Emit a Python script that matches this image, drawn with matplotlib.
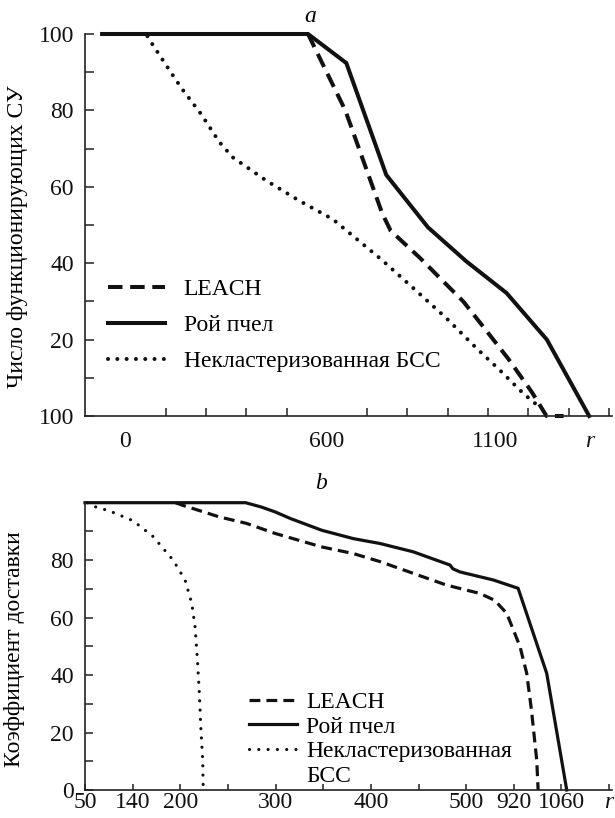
import matplotlib
matplotlib.use("Agg")
import matplotlib.pyplot as plt
from matplotlib.lines import Line2D
import numpy as np

plt.rcParams['font.family'] = ['Liberation Serif', 'DejaVu Serif']
plt.rcParams['mathtext.fontset'] = 'stix'

# ---------------- data: panel a ----------------
a_bees_x = [-69, 544, 658, 777, 901, 1015, 1135, 1255, 1381]
a_bees_y = [100, 100, 92.4, 63.1, 49.4, 40.5, 32.2, 20, 0]
a_leach_x = [544, 655, 765, 790, 877, 1006, 1060, 1140, 1210, 1254, 1305]
a_leach_y = [100, 80, 53, 48.5, 41.4, 30, 24, 15, 6.3, 0, 0]
a_flat_x = [-69, 62, 80, 133, 169, 226, 280, 320, 420, 519, 618, 762, 857, 956, 1046, 1115, 1185, 1239]
a_flat_y = [100, 100, 97.4, 90.3, 85.6, 79, 71.7, 67.7, 61.6, 56.3, 51.5, 41, 33.5, 25.6, 17.7, 12, 5.9, 1.9]
a_xtick_pos = [0, 600, 1100, 1383]
a_xtick_lab = ['0', '600', '1100', 'r']
a_ytick_pos = [0, 20, 40, 60, 80, 100]
a_ytick_lab = ['100', '20', '40', '60', '80', '100']

# ---------------- data: panel b (x = position on the tick scale) ----------------
b_bees_x = [0, 3.37, 3.7, 3.99, 4.31, 4.97, 5.63, 6.19, 6.89, 7.66, 7.72, 7.87, 8.57, 9.09, 9.69, 10.11]
b_bees_y = [100, 100, 98.5, 96.8, 94.5, 90.4, 87.5, 85.8, 82.9, 78.3, 77, 75.9, 73.1, 70.2, 40.6, 0]
b_leach_x = [1.9, 2.03, 2.83, 3.39, 3.99, 4.97, 5.63, 6.19, 7.59, 8.29, 8.60, 8.85, 9.13, 9.27, 9.37, 9.48, 9.51]
b_leach_y = [100, 99.2, 95, 92.8, 89.3, 84.6, 82.3, 79.5, 71.3, 68.4, 66, 61.5, 49.9, 40.6, 27.8, 10.4, 0]
b_flat_x = [0.05, 0.21, 0.52, 1.01, 1.43, 1.85, 2.10, 2.24, 2.31, 2.36, 2.40, 2.43, 2.47, 2.48]
b_flat_y = [100, 98.6, 97.1, 93.7, 88.2, 80, 73.1, 65, 56.8, 45.2, 33.6, 22, 10.4, 1.1]
b_xtick_pos = [0, 1, 2, 4, 6, 8, 9, 10, 11]
b_xtick_lab = ['50', '140', '200', '300', '400', '500', '920', '1060', 'r']
b_ytick_pos = [0, 20, 40, 60, 80]
b_ytick_lab = ['0', '20', '40', '60', '80']

labels = ['LEACH', 'Рой пчел', 'Некластеризованная БСС']

FS = 17
W, H = 615, 818
fig = plt.figure(figsize=(W / 100, H / 100), dpi=100)


def frac_box(x0, x1, ytop, ybot):
    return [x0 / W, 1 - ybot / H, (x1 - x0) / W, (ybot - ytop) / H]


def style_axes(ax):
    for s in ['top', 'right']:
        ax.spines[s].set_visible(False)
    for s in ['left', 'bottom']:
        ax.spines[s].set_linewidth(1.2)
        ax.spines[s].set_color('#222222')
    ax.tick_params(which='both', direction='in', width=1.1, color='#222222',
                   labelsize=FS, labelcolor='#111111')


# ---------------- panel a ----------------
ax1 = fig.add_axes(frac_box(85, 612, 34, 416))
style_axes(ax1)
lw = 2.9
ax1.plot(a_bees_x, a_bees_y, color='#111111', lw=lw, solid_joinstyle='miter',
         clip_on=False, label=labels[1])
ax1.plot(a_leach_x, a_leach_y, color='#111111', lw=lw, linestyle=(0, (3.6, 1.9)),
         clip_on=False, label=labels[0])
ax1.plot(a_flat_x, a_flat_y, color='#111111', lw=lw, linestyle=(0, (0.01, 2.3)),
         dash_capstyle='round', clip_on=False, label=labels[2])
ax1.set_xlim(-120, 1449)
ax1.set_ylim(0, 100)
ax1.set_xticks(a_xtick_pos)
ax1.set_xticklabels(a_xtick_lab)
ax1.set_xticks(np.arange(0, 1441, 120), minor=True)
ax1.tick_params(axis='x', which='major', length=0, pad=11)
ax1.tick_params(axis='x', which='minor', length=6)
ax1.set_yticks(a_ytick_pos)
ax1.set_yticklabels(a_ytick_lab)
ax1.set_yticks(np.arange(10, 100, 20), minor=True)
ax1.tick_params(axis='y', which='both', length=6.5, pad=8)
ax1.get_xticklabels()[-1].set_style('italic')
ax1.set_ylabel('Число функционирующих СУ', fontsize=FS)
ax1.yaxis.set_label_coords(-0.108, 0.47)
ax1.set_title('a', fontsize=FS, style='italic', pad=9, x=(310 - 85) / 527)

h = [Line2D([], [], color='#111111', lw=lw, linestyle=(0, (3.6, 1.9))),
     Line2D([], [], color='#111111', lw=lw),
     Line2D([], [], color='#111111', lw=lw, linestyle=(0, (0.01, 2.3)), dash_capstyle='round')]
ax1.legend(h, labels, loc='upper left', bbox_to_anchor=(0.044, 0.36), frameon=False,
           fontsize=FS, borderpad=0, borderaxespad=0, handlelength=2.4,
           handletextpad=0.8, labelspacing=0.62)

# ---------------- panel b ----------------
ax2 = fig.add_axes(frac_box(85, 612, 502.7, 790))
style_axes(ax2)
lw2 = 2.3
ax2.plot(b_bees_x, b_bees_y, color='#111111', lw=lw2, clip_on=False)
ax2.plot(b_leach_x, b_leach_y, color='#111111', lw=lw2, linestyle=(0, (3.4, 1.9)), clip_on=False)
ax2.plot(b_flat_x, b_flat_y, color='#111111', lw=lw2, linestyle=(0, (0.01, 2.9)),
         dash_capstyle='round', clip_on=False)
ax2.set_xlim(0, 11.06)
ax2.set_ylim(0, 100)
ax2.set_xticks(b_xtick_pos)
ax2.set_xticklabels(b_xtick_lab)
ax2.set_xticks([3, 5, 7], minor=True)
ax2.tick_params(axis='x', which='both', length=4.5, pad=1.5)
ax2.get_xticklabels()[-1].set_style('italic')
ax2.set_yticks(b_ytick_pos)
ax2.set_yticklabels(b_ytick_lab)
ax2.set_yticks(np.arange(10, 100, 20), minor=True)
ax2.tick_params(axis='y', which='both', length=6, pad=8)
ax2.set_ylabel('Коэффициент доставки', fontsize=FS)
ax2.yaxis.set_label_coords(-0.114, 0.49)
ax2.set_title('b', fontsize=FS, style='italic', pad=10, x=(321 - 85) / 527)

h2 = [Line2D([], [], color='#111111', lw=lw2, linestyle=(0, (3.4, 1.9))),
      Line2D([], [], color='#111111', lw=lw2),
      Line2D([], [], color='#111111', lw=lw2, linestyle=(0, (0.01, 2.9)), dash_capstyle='round'),
      Line2D([], [], linestyle='none')]
lab2 = ['LEACH', 'Рой пчел', 'Некластеризованная', 'БСС']
ax2.legend(h2, lab2, loc='upper left', bbox_to_anchor=(0.312, 0.343), frameon=False,
           fontsize=FS, borderpad=0, borderaxespad=0, handlelength=2.0,
           handletextpad=0.4, labelspacing=0.13)

fig.savefig('out.png', dpi=100)
